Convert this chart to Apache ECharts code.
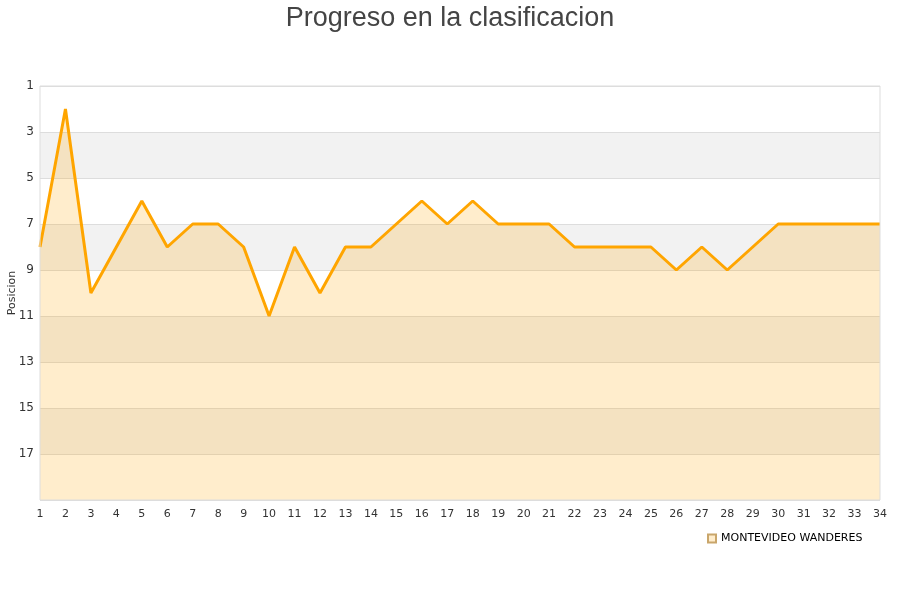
<!DOCTYPE html>
<html><head><meta charset="utf-8">
<script src="https://cdn.jsdelivr.net/npm/echarts@6/dist/echarts.min.js"></script>
<style>html,body{margin:0;padding:0;background:#fff}#c{width:900px;height:600px}</style>
</head><body><div id="c"></div>
<script>
const rounds = ['1','2','3','4','5','6','7','8','9','10','11','12','13','14','15','16','17','18','19','20','21','22','23','24','25','26','27','28','29','30','31','32','33','34'];
const positions = [8,2,10,8,6,8,7,7,8,11,8,10,8,8,7,6,7,6,7,7,7,8,8,8,8,9,8,9,8,7,7,7,7,7];
const teamName = 'MONTEVIDEO WANDERES';

const chart = echarts.init(document.getElementById('c'));
chart.setOption({
  animation: false,
  title: {
    text: 'Progreso en la clasificacion',
    left: 'center', top: 0,
    textStyle: {fontFamily: 'Liberation Sans', fontSize: 27, fontWeight: 'normal', color: '#444'}
  },
  legend: {
    data: [teamName],
    left: 702, top: 528,
    icon: 'rect', itemWidth: 8, itemHeight: 8,
    textStyle: {fontFamily: 'DejaVu Sans', fontSize: 11, color: '#000'}
  },
  grid: {left: 40, right: 20, top: 86, bottom: 100, outerBoundsMode: 'none', containLabel: false},
  xAxis: {
    type: 'category', data: rounds, boundaryGap: false,
    axisLine: {show: false}, axisTick: {show: false},
    axisLabel: {fontFamily: 'DejaVu Sans', fontSize: 11, color: '#333', margin: 9}
  },
  yAxis: {
    type: 'value', inverse: true, min: 1, max: 19, interval: 2,
    name: 'Posicion', nameLocation: 'middle', nameGap: 22, nameMoveOverlap: false,
    nameTextStyle: {fontFamily: 'DejaVu Sans', fontSize: 11, color: '#333'},
    axisLine: {show: false}, axisTick: {show: false},
    axisLabel: {fontFamily: 'DejaVu Sans', fontSize: 12, color: '#333', margin: 6,
      formatter: v => v === 19 ? '' : String(v)},
    splitLine: {show: true, lineStyle: {color: '#dddddd', width: 1}},
    splitArea: {show: true, areaStyle: {color: ['#ffffff', '#f2f2f2']}}
  },
  series: [{
    name: teamName, type: 'line', data: positions,
    symbol: 'none', smooth: false,
    lineStyle: {color: '#FFA500', width: 3},
    itemStyle: {color: '#FFEDCC', borderColor: '#c9a66b', borderWidth: 1},
    areaStyle: {color: 'rgba(255,165,0,0.2)', opacity: 1, origin: 'end'}
  }],
  graphic: [{
    type: 'rect', shape: {x: 40, y: 86, width: 840, height: 414},
    style: {fill: 'none', stroke: '#dddddd', lineWidth: 1}, silent: true, z: 10
  }]
});
</script></body></html>
